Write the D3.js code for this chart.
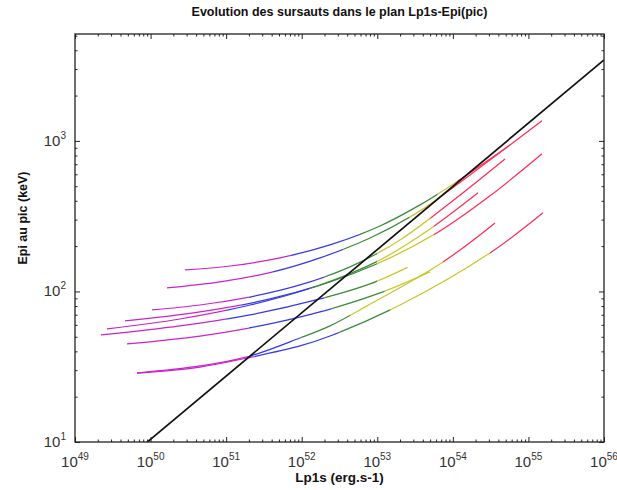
<!DOCTYPE html>
<html><head><meta charset="utf-8">
<script src="https://cdn.jsdelivr.net/npm/d3@7"></script>
<style>body{margin:0;background:#fff}</style>
</head><body><svg id="c" width="617" height="490"></svg>
<script>
// ---- data (log10 values) ----
const xTickExp = [49, 50, 51, 52, 53, 54, 55, 56];
const yTickExp = [1, 2, 3];
const xDomainExp = [49, 56];
const yDomainExp = [1, 3.71];

// colour used for each evolution stage (start -> end)
const stageColors = ["#cc22cc", "#3838ee", "#3c8a3c", "#c8c830", "#ff2d58"];

// each burst: log10 Lp1s, log10 Epi, and log10 Lp1s where the colour changes
const burstA_logL = [50.456, 51.051, 51.713, 52.374, 53.036, 53.565, 54.028, 54.756];
const burstA_logE = [2.143, 2.169, 2.223, 2.309, 2.435, 2.575, 2.721, 2.973];
const burstA_breaks = [51.85, 52.77, 53.80, 54.05];

const burstB_logL = [50.217, 50.919, 51.620, 52.242, 52.904, 53.565, 54.227, 55.180];
const burstB_logE = [2.023, 2.063, 2.130, 2.223, 2.355, 2.535, 2.774, 3.133];
const burstB_breaks = [51.62, 52.55, 53.43, 53.80];

const burstC_logL = [50.019, 50.654, 51.316, 51.977, 52.639, 53.301, 53.962, 54.690];
const burstC_logE = [1.877, 1.910, 1.963, 2.043, 2.163, 2.342, 2.588, 2.880];
const burstC_breaks = [51.30, 52.30, 53.00, 53.70];

const burstD_logL = [49.662, 50.654, 51.580, 52.374, 53.168, 53.830, 54.492, 55.180];
const burstD_logE = [1.804, 1.864, 1.950, 2.063, 2.223, 2.402, 2.635, 2.914];
const burstD_breaks = [51.20, 52.20, 53.00, 53.75];

const burstE_logL = [49.423, 50.389, 51.316, 52.242, 53.036, 53.698, 54.333];
const burstE_logE = [1.751, 1.817, 1.910, 2.043, 2.209, 2.415, 2.655];
const burstE_breaks = [51.00, 52.10, 53.00, 53.75];

const burstF_logL = [49.344, 50.389, 51.316, 52.242, 52.904, 53.400];
const burstF_logE = [1.711, 1.771, 1.844, 1.950, 2.050, 2.160];
const burstF_breaks = [51.00, 52.30, 53.00, 54.00];

const burstH_logL = [49.688, 50.654, 51.448, 52.242, 53.036, 53.698];
const burstH_logE = [1.651, 1.704, 1.771, 1.864, 1.990, 2.130];
const burstH_breaks = [51.30, 52.40, 53.10, 54.00];

const burstI1_logL = [49.820, 50.654, 51.276, 51.977, 52.374, 53.301, 54.492, 55.193];
const burstI1_logE = [1.458, 1.498, 1.558, 1.638, 1.704, 1.910, 2.256, 2.522];
const burstI1_breaks = [51.38, 52.50, 53.17, 54.49];

const burstI2_logL = [49.820, 50.654, 51.276, 51.977, 52.374, 52.864, 53.870, 54.558];
const burstI2_logE = [1.458, 1.505, 1.565, 1.691, 1.771, 1.904, 2.196, 2.455];
const burstI2_breaks = [51.32, 51.98, 52.64, 53.87];

// black reference relation
const relation_logL = [49, 56];
const relation_logE = [0.598, 3.538];

const bursts = [
  [burstA_logL, burstA_logE, burstA_breaks],
  [burstB_logL, burstB_logE, burstB_breaks],
  [burstC_logL, burstC_logE, burstC_breaks],
  [burstD_logL, burstD_logE, burstD_breaks],
  [burstE_logL, burstE_logE, burstE_breaks],
  [burstF_logL, burstF_logE, burstF_breaks],
  [burstH_logL, burstH_logE, burstH_breaks],
  [burstI1_logL, burstI1_logE, burstI1_breaks],
  [burstI2_logL, burstI2_logE, burstI2_breaks]
];

// ---- layout ----
const W = 617, H = 490;
const m = {left: 75, right: 13, top: 34, bottom: 48};
const iw = W - m.left - m.right, ih = H - m.top - m.bottom;
const svg = d3.select("#c");
const g = svg.append("g").attr("transform", `translate(${m.left},${m.top})`);

const x = d3.scaleLog().domain(xDomainExp.map(e => 10 ** e)).range([0, iw]);
const y = d3.scaleLog().domain(yDomainExp.map(e => 10 ** e)).range([ih, 0]);

const defs = svg.append("defs");
defs.append("clipPath").attr("id", "plotclip").append("rect")
  .attr("width", iw).attr("height", ih);

const plot = g.append("g").attr("clip-path", "url(#plotclip)");

const line = d3.line()
  .x(d => x(10 ** d[0])).y(d => y(10 ** d[1]))
  .curve(d3.curveCatmullRom.alpha(0.5));

bursts.forEach((b, bi) => {
  const pts = b[0].map((v, i) => [v, b[1][i]]);
  const edges = [b[0][0] - 0.1, ...b[2], b[0][b[0].length - 1] + 0.1];
  for (let s = 0; s < stageColors.length; s++) {
    const id = `seg${bi}_${s}`;
    const x0 = x(10 ** edges[s]), x1 = x(10 ** edges[s + 1]);
    if (x1 <= x0) continue;
    defs.append("clipPath").attr("id", id).append("rect")
      .attr("x", x0).attr("y", -10).attr("width", x1 - x0).attr("height", ih + 20);
    plot.append("g").attr("clip-path", `url(#${id})`)
      .append("path").datum(pts)
      .attr("d", line)
      .attr("fill", "none")
      .attr("stroke", stageColors[s])
      .attr("stroke-width", 1.25);
  }
});

plot.append("path")
  .datum(relation_logL.map((v, i) => [v, relation_logE[i]]))
  .attr("d", d3.line().x(d => x(10 ** d[0])).y(d => y(10 ** d[1])))
  .attr("fill", "none").attr("stroke", "#111").attr("stroke-width", 1.7);

// ---- axes (ticks inside, on all sides) ----
const xMajor = xTickExp.map(e => 10 ** e);
const yMajor = yTickExp.map(e => 10 ** e);
const xMinor = [];
for (let e = xDomainExp[0]; e < xDomainExp[1]; e++) for (let k = 2; k <= 9; k++) xMinor.push(k * 10 ** e);
const yMinor = [];
for (let e = 1; e <= 3; e++) for (let k = 2; k <= 9; k++) { const v = k * 10 ** e; if (v <= 10 ** yDomainExp[1]) yMinor.push(v); }

function styleAxis(sel) {
  sel.select(".domain").remove();
  sel.selectAll("line").attr("stroke", "#222");
}
g.append("g").attr("transform", `translate(0,${ih})`).call(d3.axisBottom(x).tickValues(xMajor).tickSize(-5).tickFormat("")).call(styleAxis);
g.append("g").attr("transform", `translate(0,${ih})`).call(d3.axisBottom(x).tickValues(xMinor).tickSize(-2.5).tickFormat("")).call(styleAxis);
g.append("g").call(d3.axisTop(x).tickValues(xMajor).tickSize(-5).tickFormat("")).call(styleAxis);
g.append("g").call(d3.axisTop(x).tickValues(xMinor).tickSize(-2.5).tickFormat("")).call(styleAxis);
g.append("g").call(d3.axisLeft(y).tickValues(yMajor).tickSize(-5).tickFormat("")).call(styleAxis);
g.append("g").call(d3.axisLeft(y).tickValues(yMinor).tickSize(-2.5).tickFormat("")).call(styleAxis);
g.append("g").attr("transform", `translate(${iw},0)`).call(d3.axisRight(y).tickValues(yMajor).tickSize(-5).tickFormat("")).call(styleAxis);
g.append("g").attr("transform", `translate(${iw},0)`).call(d3.axisRight(y).tickValues(yMinor).tickSize(-2.5).tickFormat("")).call(styleAxis);

g.append("rect").attr("width", iw).attr("height", ih)
  .attr("fill", "none").attr("stroke", "#222").attr("stroke-width", 1.3);

const font = "'Liberation Sans', Arial, sans-serif";
// x tick labels
xTickExp.forEach(e => {
  const t = g.append("text").attr("x", x(10 ** e)).attr("y", ih + 25)
    .attr("text-anchor", "middle").attr("font-family", font).attr("font-size", 15).attr("fill", "#333");
  t.append("tspan").text("10");
  t.append("tspan").attr("dy", -7).attr("font-size", 10).text(String(e));
});
// y tick labels
yTickExp.forEach(e => {
  const t = g.append("text").attr("x", -9).attr("y", y(10 ** e) + 5)
    .attr("text-anchor", "end").attr("font-family", font).attr("font-size", 15).attr("fill", "#333");
  t.append("tspan").text("10");
  t.append("tspan").attr("dy", -7).attr("font-size", 10).text(String(e));
});

svg.append("text").attr("x", m.left + iw / 2).attr("y", 16)
  .attr("text-anchor", "middle").attr("font-family", font).attr("font-weight", "bold")
  .attr("font-size", 12.5).attr("fill", "#111")
  .text("Evolution des sursauts dans le plan Lp1s-Epi(pic)");
svg.append("text").attr("x", m.left + iw / 2).attr("y", 482)
  .attr("text-anchor", "middle").attr("font-family", font).attr("font-weight", "bold")
  .attr("font-size", 13.5).attr("fill", "#111").text("Lp1s (erg.s-1)");
svg.append("text").attr("transform", "translate(27,218) rotate(-90)")
  .attr("text-anchor", "middle").attr("font-family", font).attr("font-weight", "bold")
  .attr("font-size", 12.5).attr("fill", "#111").text("Epi au pic (keV)");
</script></body></html>
